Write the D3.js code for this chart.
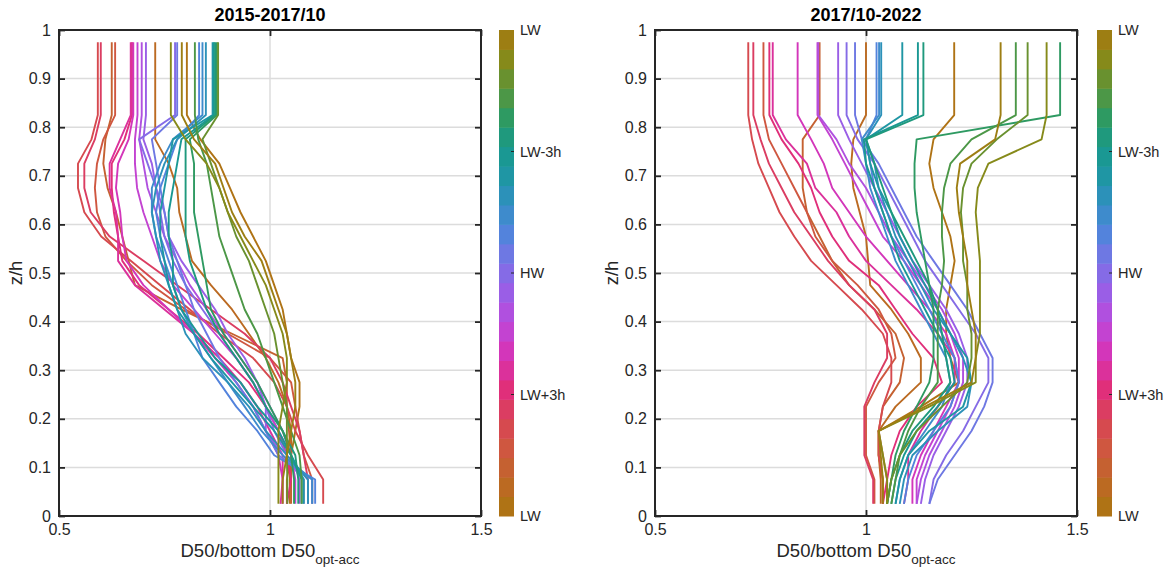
<!DOCTYPE html>
<html>
<head>
<meta charset="utf-8">
<script src="https://cdn.jsdelivr.net/npm/d3@7"></script>
<style>
  body { margin: 0; background: #fff; }
  svg { display: block; font-family: "Liberation Sans", Arial, Helvetica, sans-serif; }
</style>
</head>
<body>
<svg id="chart" width="1169" height="576"></svg>
<script>
// Relative height above the bed (z/h) at which each D50 ratio is given, bottom to top
const zLevels = [0.025, 0.075, 0.125, 0.175, 0.225, 0.275, 0.325, 0.375, 0.425, 0.475,
                 0.525, 0.575, 0.625, 0.675, 0.725, 0.775, 0.825, 0.875, 0.925, 0.975];

const panelTitles = ["2015-2017/10", "2017/10-2022"];
const xTicks = [0.5, 1, 1.5];
const yTicks = [0, 0.1, 0.2, 0.3, 0.4, 0.5, 0.6, 0.7, 0.8, 0.9, 1];
const phaseTicks = [0, 0.25, 0.5, 0.75, 1];
const phaseLabels = ["LW", "LW+3h", "HW", "LW-3h", "LW"];
const phaseBins = 25;

// D50 / bottom D50 profiles, one per tidal-phase bin (bin 0 = just after LW)
const profiles2015 = [
  [1.047,1.047,1.05,1.06,1.07,1.07,1.05,1.04,1.03,1.01,0.99,0.96,0.93,0.905,0.88,0.835,0.803,0.803,0.803,0.803],
  [1.04,1.04,1.05,1.05,1.04,1.02,0.99,0.95,0.91,0.86,0.815,0.80,0.785,0.78,0.76,0.728,0.728,0.728,0.728,0.728],
  [1.05,1.05,1.05,1.045,1.04,1.04,1.03,0.91,0.79,0.68,0.665,0.65,0.635,0.615,0.605,0.61,0.625,0.625,0.625,0.625],
  [1.10,1.10,1.08,1.07,1.06,1.05,1.00,0.90,0.80,0.72,0.66,0.61,0.59,0.585,0.59,0.605,0.633,0.633,0.633,0.633],
  [1.126,1.126,1.09,1.06,1.04,1.01,0.96,0.88,0.81,0.74,0.67,0.60,0.56,0.545,0.545,0.577,0.592,0.592,0.592,0.592],
  [1.09,1.09,1.08,1.07,1.05,1.03,1.00,0.94,0.86,0.78,0.70,0.62,0.575,0.56,0.56,0.585,0.599,0.599,0.599,0.599],
  [1.04,1.05,1.04,1.02,0.99,0.95,0.89,0.83,0.76,0.69,0.65,0.64,0.63,0.625,0.625,0.655,0.673,0.673,0.673,0.673],
  [1.025,1.03,1.03,1.00,0.97,0.93,0.88,0.82,0.75,0.68,0.64,0.64,0.635,0.62,0.62,0.645,0.670,0.670,0.670,0.670],
  [1.03,1.03,1.02,0.99,0.96,0.92,0.87,0.82,0.76,0.70,0.66,0.65,0.645,0.635,0.64,0.665,0.676,0.676,0.676,0.676],
  [1.06,1.06,1.05,1.02,0.99,0.96,0.92,0.87,0.82,0.77,0.74,0.72,0.70,0.685,0.68,0.68,0.686,0.686,0.686,0.686],
  [1.07,1.07,1.05,1.03,1.00,0.97,0.93,0.89,0.85,0.81,0.78,0.75,0.73,0.71,0.70,0.69,0.696,0.696,0.696,0.696],
  [1.08,1.08,1.03,0.99,0.99,0.97,0.94,0.90,0.87,0.83,0.79,0.76,0.75,0.73,0.72,0.70,0.706,0.706,0.706,0.706],
  [1.09,1.09,1.04,1.01,0.99,0.96,0.92,0.88,0.84,0.80,0.77,0.75,0.74,0.73,0.71,0.69,0.775,0.775,0.775,0.775],
  [1.10,1.10,1.02,0.99,0.96,0.92,0.88,0.85,0.82,0.80,0.78,0.76,0.75,0.74,0.73,0.72,0.780,0.780,0.780,0.780],
  [1.107,1.107,1.01,0.97,0.92,0.88,0.84,0.82,0.80,0.78,0.76,0.74,0.73,0.74,0.76,0.78,0.832,0.832,0.832,0.832],
  [1.10,1.10,1.03,0.98,0.94,0.90,0.86,0.82,0.79,0.77,0.75,0.73,0.72,0.72,0.74,0.77,0.840,0.840,0.840,0.840],
  [1.09,1.09,1.04,0.99,0.95,0.90,0.84,0.80,0.78,0.76,0.74,0.73,0.72,0.73,0.75,0.78,0.848,0.848,0.848,0.848],
  [1.08,1.08,1.05,1.01,0.96,0.91,0.86,0.82,0.78,0.76,0.75,0.74,0.74,0.75,0.76,0.77,0.864,0.864,0.864,0.864],
  [1.075,1.075,1.05,1.02,0.97,0.93,0.87,0.83,0.79,0.77,0.77,0.76,0.76,0.77,0.78,0.79,0.867,0.867,0.867,0.867],
  [1.067,1.067,1.06,1.03,0.99,0.96,0.92,0.88,0.85,0.83,0.81,0.80,0.80,0.80,0.80,0.80,0.870,0.870,0.870,0.870],
  [1.057,1.057,1.05,1.03,1.00,0.97,0.93,0.89,0.86,0.85,0.84,0.83,0.82,0.82,0.82,0.81,0.874,0.874,0.874,0.874],
  [1.075,1.075,1.07,1.05,1.03,1.01,0.99,0.97,0.94,0.92,0.90,0.88,0.87,0.86,0.85,0.83,0.822,0.822,0.822,0.822],
  [1.041,1.041,1.04,1.04,1.04,1.03,1.02,1.01,0.99,0.97,0.95,0.92,0.90,0.88,0.86,0.84,0.877,0.877,0.877,0.877],
  [1.02,1.02,1.02,1.02,1.03,1.04,1.04,1.03,1.01,0.99,0.96,0.93,0.90,0.88,0.85,0.80,0.765,0.765,0.765,0.765],
  [1.03,1.03,1.04,1.05,1.06,1.06,1.05,1.04,1.02,1.00,0.98,0.94,0.91,0.89,0.87,0.82,0.791,0.791,0.791,0.791]
];

const profiles2017 = [
  [1.04,1.04,1.03,1.03,1.13,1.22,1.20,1.19,1.19,1.20,1.21,1.20,1.18,1.16,1.15,1.16,1.209,1.209,1.209,1.209],
  [1.035,1.035,1.03,1.03,1.07,1.13,1.13,1.10,1.06,1.01,1.005,1.00,0.985,0.97,0.965,0.97,1.00,1.00,1.00,1.00],
  [1.05,1.05,1.04,1.03,1.04,1.08,1.09,1.07,1.02,0.96,0.92,0.89,0.86,0.85,0.85,0.85,0.89,0.89,0.89,0.89],
  [1.02,1.02,1.00,1.00,1.00,1.03,1.07,1.06,1.03,0.98,0.92,0.88,0.86,0.83,0.80,0.77,0.757,0.757,0.757,0.757],
  [1.04,1.04,1.03,1.03,1.04,1.06,1.06,1.04,0.99,0.93,0.87,0.83,0.795,0.77,0.745,0.73,0.721,0.721,0.721,0.721],
  [1.017,1.017,0.996,0.996,0.996,1.02,1.05,1.05,1.02,0.96,0.91,0.87,0.83,0.80,0.77,0.75,0.733,0.733,0.733,0.733],
  [1.04,1.05,1.06,1.08,1.12,1.18,1.16,1.11,1.07,1.03,0.96,0.92,0.89,0.87,0.84,0.80,0.771,0.771,0.771,0.771],
  [1.09,1.10,1.10,1.13,1.17,1.21,1.21,1.17,1.12,1.06,1.00,0.96,0.93,0.88,0.86,0.81,0.779,0.779,0.779,0.779],
  [1.11,1.11,1.13,1.16,1.19,1.22,1.21,1.19,1.15,1.10,1.05,1.00,0.96,0.92,0.90,0.87,0.838,0.838,0.838,0.838],
  [1.12,1.12,1.14,1.17,1.20,1.22,1.22,1.20,1.17,1.13,1.09,1.04,1.01,0.98,0.95,0.92,0.885,0.885,0.885,0.885],
  [1.12,1.13,1.15,1.18,1.21,1.23,1.23,1.21,1.18,1.14,1.10,1.06,1.03,1.00,0.96,0.93,0.887,0.887,0.887,0.887],
  [1.13,1.14,1.16,1.19,1.22,1.24,1.24,1.22,1.19,1.15,1.11,1.08,1.05,1.02,0.99,0.96,0.934,0.934,0.934,0.934],
  [1.15,1.16,1.19,1.23,1.26,1.29,1.29,1.26,1.22,1.18,1.14,1.11,1.08,1.05,1.02,0.98,0.954,0.954,0.954,0.954],
  [1.15,1.17,1.21,1.25,1.28,1.30,1.30,1.27,1.24,1.20,1.16,1.12,1.09,1.06,1.03,0.99,0.974,0.974,0.974,0.974],
  [1.09,1.10,1.12,1.16,1.20,1.22,1.21,1.18,1.15,1.12,1.09,1.06,1.04,1.02,1.01,1.00,1.025,1.025,1.025,1.025],
  [1.07,1.08,1.10,1.14,1.18,1.20,1.19,1.16,1.13,1.10,1.07,1.05,1.03,1.01,1.00,0.99,1.031,1.031,1.031,1.031],
  [1.08,1.09,1.11,1.17,1.24,1.25,1.23,1.20,1.16,1.13,1.10,1.07,1.05,1.03,1.02,1.00,1.036,1.036,1.036,1.036],
  [1.07,1.08,1.10,1.15,1.23,1.25,1.24,1.20,1.17,1.14,1.11,1.08,1.06,1.03,1.01,1.00,1.086,1.086,1.086,1.086],
  [1.06,1.07,1.09,1.12,1.17,1.21,1.20,1.17,1.14,1.11,1.08,1.06,1.04,1.02,1.00,0.995,1.123,1.123,1.123,1.123],
  [1.05,1.06,1.08,1.11,1.16,1.20,1.19,1.18,1.17,1.15,1.12,1.09,1.06,1.04,1.02,1.00,1.136,1.136,1.136,1.136],
  [1.05,1.06,1.07,1.09,1.12,1.15,1.16,1.16,1.16,1.15,1.14,1.13,1.12,1.115,1.115,1.12,1.46,1.46,1.46,1.46],
  [1.06,1.07,1.08,1.10,1.13,1.17,1.17,1.17,1.17,1.18,1.185,1.18,1.18,1.185,1.20,1.25,1.355,1.355,1.355,1.355],
  [1.05,1.06,1.08,1.12,1.18,1.24,1.25,1.25,1.24,1.24,1.23,1.23,1.225,1.23,1.25,1.31,1.383,1.383,1.383,1.383],
  [1.05,1.05,1.04,1.03,1.15,1.26,1.26,1.27,1.27,1.27,1.27,1.265,1.26,1.265,1.29,1.416,1.428,1.428,1.428,1.428],
  [1.04,1.04,1.035,1.03,1.14,1.25,1.26,1.26,1.25,1.24,1.24,1.23,1.22,1.215,1.223,1.306,1.319,1.319,1.319,1.319]
];

// Cyclic tidal-phase colour map (LW -> LW+3h -> HW -> LW-3h -> LW)
const cmapStops = [0.00, 0.06, 0.13, 0.20, 0.26, 0.33, 0.40, 0.46, 0.52, 0.58, 0.64, 0.70, 0.76, 0.82, 0.88, 0.94, 1.00];
const cmapColors = ["#a9780f", "#bb6a22", "#cd5a3c", "#d94456", "#e02f7a", "#d733b4", "#bb49dc", "#9a5ee6",
                    "#7b72e6", "#5383dc", "#338fc4", "#1f96a4", "#17998a", "#2e9a62", "#5b953a", "#868a1a", "#a9780f"];

const phaseColor = d3.scaleLinear().domain(cmapStops).range(cmapColors).interpolate(d3.interpolateRgb);
const binColor = k => phaseColor((k + 0.5) / phaseBins);

const svg = d3.select("#chart");
const ink = "#262626";
const plotTop = 30, plotBottom = 516;

const panels = [
  { title: panelTitles[0], data: profiles2015, left: 59,  right: 481,  cbLeft: 499 },
  { title: panelTitles[1], data: profiles2017, left: 655, right: 1077, cbLeft: 1097 }
];

panels.forEach(p => {
  const x = d3.scaleLinear().domain([0.5, 1.5]).range([p.left, p.right]);
  const y = d3.scaleLinear().domain([0, 1]).range([plotBottom, plotTop]);
  const g = svg.append("g");

  // grid
  g.append("g").selectAll("line").data(yTicks.slice(1, -1)).join("line")
    .attr("x1", p.left).attr("x2", p.right)
    .attr("y1", d => y(d)).attr("y2", d => y(d))
    .attr("stroke", "#dcdcdc").attr("stroke-width", 1.5);
  g.append("g").selectAll("line").data(xTicks.slice(1, -1)).join("line")
    .attr("x1", d => x(d)).attr("x2", d => x(d))
    .attr("y1", plotTop).attr("y2", plotBottom)
    .attr("stroke", "#dcdcdc").attr("stroke-width", 1.5);

  // profiles
  const line = d3.line().x(d => x(d[0])).y(d => y(d[1]));
  g.append("g").selectAll("path").data(p.data).join("path")
    .attr("d", vals => line(vals.map((v, i) => [v, zLevels[i]])))
    .attr("fill", "none")
    .attr("stroke", (vals, k) => binColor(k))
    .attr("stroke-width", 1.9)
    .attr("stroke-linejoin", "round");

  // axes (ticks point inward)
  const fmt = d => String(+d.toFixed(1));
  const axL = g.append("g").attr("transform", `translate(${p.left},0)`)
    .call(d3.axisLeft(y).tickValues(yTicks).tickSizeInner(-6).tickSizeOuter(0).tickPadding(8).tickFormat(fmt));
  const axR = g.append("g").attr("transform", `translate(${p.right},0)`)
    .call(d3.axisRight(y).tickValues(yTicks).tickSizeInner(-6).tickSizeOuter(0).tickFormat(""));
  const axB = g.append("g").attr("transform", `translate(0,${plotBottom})`)
    .call(d3.axisBottom(x).tickValues(xTicks).tickSizeInner(-6).tickSizeOuter(0).tickPadding(8).tickFormat(fmt));
  const axT = g.append("g").attr("transform", `translate(0,${plotTop})`)
    .call(d3.axisTop(x).tickValues(xTicks).tickSizeInner(-6).tickSizeOuter(0).tickFormat(""));
  [axL, axR, axB, axT].forEach(a => {
    a.select(".domain").remove();
    a.selectAll(".tick line").attr("stroke", ink).attr("stroke-width", 1.8);
    a.selectAll("text").attr("fill", ink).attr("font-size", 16).attr("font-family", null);
  });

  // box
  g.append("rect").attr("x", p.left).attr("y", plotTop)
    .attr("width", p.right - p.left).attr("height", plotBottom - plotTop)
    .attr("fill", "none").attr("stroke", ink).attr("stroke-width", 2);

  // title and axis labels
  g.append("text").attr("x", (p.left + p.right) / 2).attr("y", 21)
    .attr("text-anchor", "middle").attr("font-size", 18).attr("font-weight", "bold")
    .attr("fill", "#000").text(p.title);

  const xl = g.append("text").attr("x", (p.left + p.right) / 2).attr("y", 557)
    .attr("text-anchor", "middle").attr("font-size", 18.5).attr("fill", ink);
  xl.append("tspan").text("D50/bottom D50");
  xl.append("tspan").attr("dy", 7).attr("font-size", 13.5).text("opt-acc");

  g.append("text")
    .attr("transform", `translate(${p.left - 37},${(plotTop + plotBottom) / 2}) rotate(-90)`)
    .attr("text-anchor", "middle").attr("font-size", 18.5).attr("fill", ink).text("z/h");

  // colour bar
  const cb = d3.scaleLinear().domain([0, 1]).range([plotBottom, plotTop]);
  const cbW = 15;
  const bins = d3.range(phaseBins);
  g.append("g").selectAll("rect").data(bins).join("rect")
    .attr("x", p.cbLeft).attr("width", cbW)
    .attr("y", k => cb((k + 1) / phaseBins))
    .attr("height", k => cb(k / phaseBins) - cb((k + 1) / phaseBins) + 0.5)
    .attr("fill", k => binColor(k));
  g.append("g").selectAll("line").data(phaseTicks.slice(1, -1)).join("line")
    .attr("x1", p.cbLeft + cbW - 3).attr("x2", p.cbLeft + cbW)
    .attr("y1", d => cb(d)).attr("y2", d => cb(d))
    .attr("stroke", ink).attr("stroke-width", 1);
  g.append("g").selectAll("text").data(phaseTicks).join("text")
    .attr("x", p.cbLeft + cbW + 6).attr("y", d => cb(d))
    .attr("dy", "0.35em").attr("font-size", 14.5).attr("fill", ink)
    .text((d, i) => phaseLabels[i]);
});
</script>
</body>
</html>
